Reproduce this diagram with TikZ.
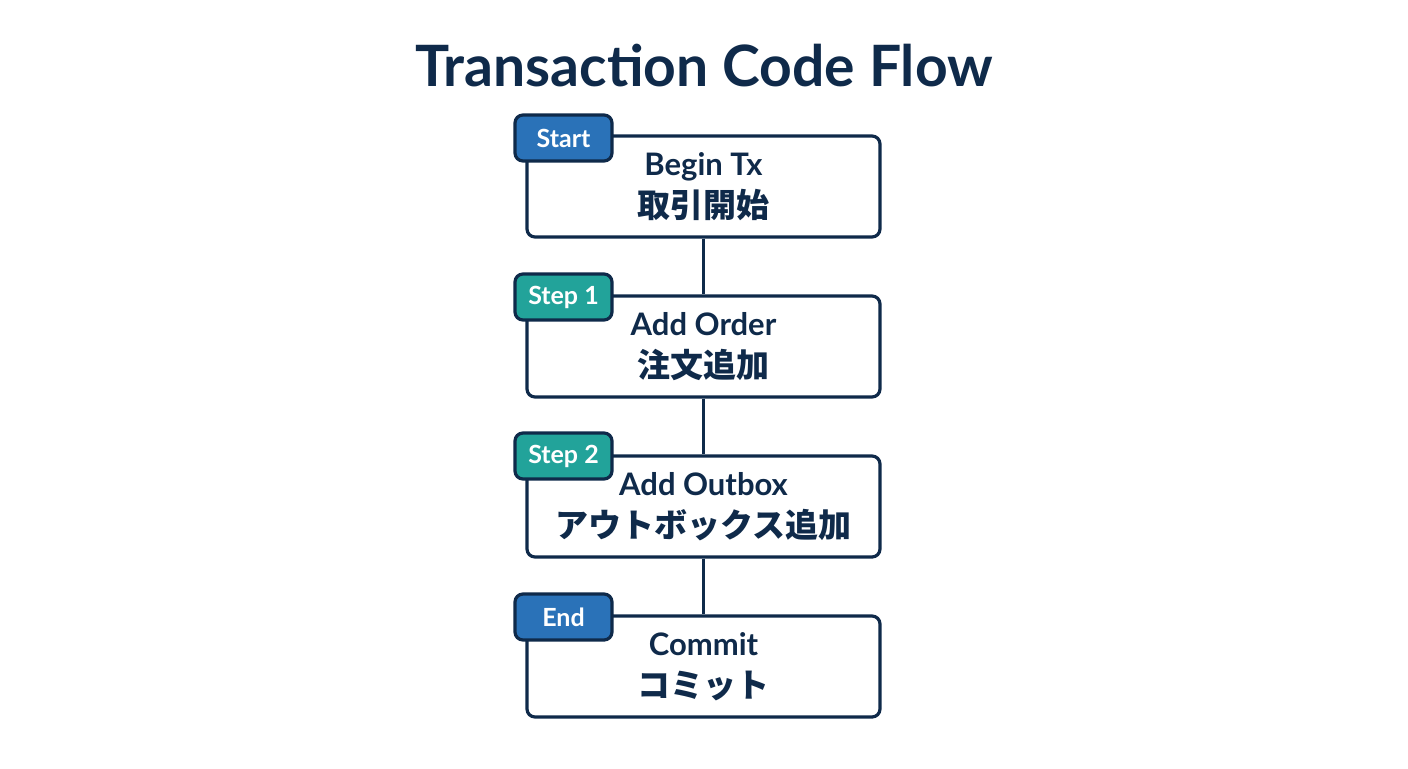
\documentclass[tikz,border=0pt]{standalone}
\usepackage{fontspec}
\setmainfont{Lato}
\newfontfamily\cjk{Noto Sans CJK JP}
\usetikzlibrary{positioning}
\definecolor{navy}{HTML}{0F2A4A}
\definecolor{tabblue}{HTML}{2A72B8}
\definecolor{tabteal}{HTML}{22A39A}
\begin{document}
\begin{tikzpicture}[x=0.5pt,y=-0.5pt,
    stepbox/.style={draw=navy, line width=1.6pt, rounded corners=4pt, fill=white,
      minimum width=176.5pt, minimum height=50.5pt, align=center, text=navy,
      font=\bfseries\fontsize{15.5}{19}\selectfont},
    tab/.style={draw=navy, line width=1.6pt, rounded corners=4pt, text=white,
      minimum width=48.5pt, minimum height=23pt, inner sep=0pt,
      font=\bfseries\fontsize{12.5}{14}\selectfont},
    link/.style={draw=navy, line width=1.6pt}]
  \fill[white] (0,0) rectangle (1408,768);
  \useasboundingbox (0,0) rectangle (1408,768);

  \node (title) at (704,66) [text=navy, font=\bfseries\fontsize{28.5}{32}\selectfont] {Transaction Code Flow};

  % boxes
  \node (b1) at (703.5,186.5) [stepbox] {Begin Tx\\[2pt]{\cjk\fontsize{16.5}{19}\selectfont 取引開始}};
  \node (b2) at (703.5,346.5) [stepbox] {Add Order\\[2pt]{\cjk\fontsize{16.5}{19}\selectfont 注文追加}};
  \node (b3) at (703.5,506.5) [stepbox] {Add Outbox\\[2pt]{\cjk\fontsize{16.5}{19}\selectfont アウトボックス追加}};
  \node (b4) at (703.5,666.5) [stepbox] {Commit\\[2pt]{\cjk\fontsize{16.5}{19}\selectfont コミット}};

  \draw [link] (b1.south) -- (b2.north);
  \draw [link] (b2.south) -- (b3.north);
  \draw [link] (b3.south) -- (b4.north);

  % tabs
  \node (t1) at (563.5,138) [tab, fill=tabblue] {Start};
  \node (t2) at (563.5,297) [tab, fill=tabteal] {Step 1};
  \node (t3) at (563.5,456) [tab, fill=tabteal] {Step 2};
  \node (t4) at (563.5,617) [tab, fill=tabblue] {End};
\end{tikzpicture}
\end{document}
